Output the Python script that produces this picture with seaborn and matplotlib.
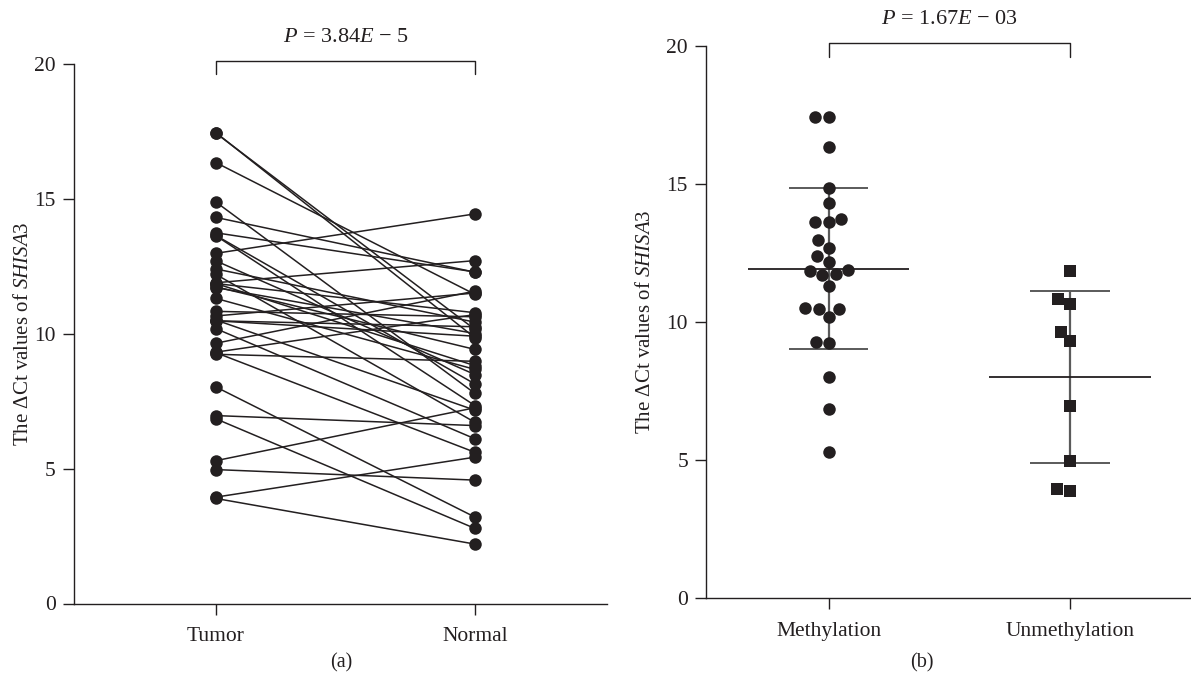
import numpy as np
import pandas as pd
import seaborn as sns
import matplotlib.pyplot as plt

# (a) paired delta Ct values, one entry per patient
tumor = [17.44, 17.42, 16.33, 14.87, 14.30, 13.73, 13.63, 13.62, 12.97, 12.69,
         12.39, 12.19, 11.88, 11.85, 11.85, 11.73, 11.70, 11.30, 10.82, 10.65,
         10.50, 10.47, 10.47, 10.18, 9.64, 9.31, 9.29, 9.23, 8.02, 6.96,
         6.84, 5.29, 4.96, 3.94, 3.89]
normal = [9.84, 10.15, 11.45, 7.78, 12.27, 12.28, 8.13, 7.33, 14.43, 8.48,
          10.42, 6.71, 12.70, 8.81, 10.77, 9.41, 10.00, 8.67, 10.62, 11.50,
          7.16, 9.90, 10.25, 6.10, 11.57, 10.70, 5.60, 8.97, 3.20, 6.59,
          2.78, 7.25, 4.57, 5.42, 2.20]

# (b) tumor delta Ct values by methylation status
methylation = [17.44, 17.42, 16.33, 14.87, 14.30, 13.73, 13.63, 13.62, 12.97,
               12.69, 12.39, 12.19, 11.88, 11.85, 11.73, 11.70, 11.30, 10.50,
               10.47, 10.47, 10.18, 9.29, 9.23, 8.02, 6.84, 5.29]
unmethylation = [11.85, 10.65, 10.82, 9.64, 9.31, 6.96, 4.96, 3.89, 3.94]

groups_a = ["Tumor", "Normal"]
groups_b = ["Methylation", "Unmethylation"]
p_a = r"$P$ = 3.84$E$ − 5"
p_b = r"$P$ = 1.67$E$ − 03"
ylabel = r"The $\Delta$Ct values of $\mathit{SHISA3}$"

ink = "#231f20"
grey = "#5a5a5a"

sns.set_style("ticks")
plt.rcParams["font.family"] = ["Liberation Serif", "DejaVu Serif"]
plt.rcParams["mathtext.fontset"] = "custom"
plt.rcParams["mathtext.rm"] = "Liberation Serif"
plt.rcParams["mathtext.it"] = "Liberation Serif:italic"
plt.rcParams["mathtext.cal"] = "Liberation Serif"

fig = plt.figure(figsize=(11.91, 6.8), dpi=100)
ax1 = fig.add_axes([0.0621, 0.1125, 0.4476, 0.7941])
ax2 = fig.add_axes([0.5928, 0.1206, 0.4060, 0.8118])

# ---- panel (a): paired lines
n = len(tumor)
df_a = pd.DataFrame({
    "pair": list(range(n)) * 2,
    "group": [groups_a[0]] * n + [groups_a[1]] * n,
    "value": tumor + normal,
})
sns.lineplot(data=df_a, x="group", y="value", units="pair", estimator=None,
             sort=False, color=ink, lw=1.1, marker="o", markersize=9,
             markeredgewidth=0, ax=ax1)
ax1.set_xlim(-0.548, 1.51)

# ---- panel (b): swarm + mean/SD
df_b = pd.DataFrame({
    "group": [groups_b[0]] * len(methylation) + [groups_b[1]] * len(unmethylation),
    "value": methylation + unmethylation,
})
stats = df_b.groupby("group")["value"].agg(["mean", "std"]).reindex(groups_b)
for i, g in enumerate(groups_b):
    m, s = stats.loc[g, "mean"], stats.loc[g, "std"]
    ax2.vlines(i, m - s, m + s, color=grey, lw=1.6, zorder=1)
    ax2.hlines([m - s, m + s], i - 0.165, i + 0.165, color=grey, lw=1.4, zorder=1)
    ax2.hlines(m, i - 0.335, i + 0.335, color=ink, lw=1.3, zorder=1)

sns.swarmplot(data=df_b[df_b.group == groups_b[0]], x="group", y="value",
              order=groups_b, marker="o", size=9, color=ink, linewidth=0,
              ax=ax2, zorder=3)
sns.swarmplot(data=df_b[df_b.group == groups_b[1]], x="group", y="value",
              order=groups_b, marker="s", size=9, color=ink, linewidth=0,
              ax=ax2, zorder=3)
ax2.set_xlim(-0.508, 1.496)

# ---- shared styling
for ax, p, groups, lp in [(ax1, p_a, groups_a, 1), (ax2, p_b, groups_b, 8)]:
    ax.set_ylim(0, 20)
    ax.set_yticks([0, 5, 10, 15, 20])
    ax.set_xticks([0, 1])
    ax.set_xticklabels(groups)
    ax.set_xlabel("")
    ax.set_ylabel(ylabel, fontsize=15, color=ink, labelpad=lp)
    sns.despine(ax=ax)
    ax.spines["left"].set_bounds(0, 20)
    for sp in ["left", "bottom"]:
        ax.spines[sp].set_color(ink)
        ax.spines[sp].set_linewidth(1.0)
    ax.tick_params(axis="both", direction="out", length=8, width=1,
                   color=ink, labelcolor=ink, labelsize=15.5, pad=5)
    ax.tick_params(axis="x", pad=9)
    # significance bracket
    ax.plot([0, 0, 1, 1], [19.6, 20.1, 20.1, 19.6], color=ink, lw=1.0,
            clip_on=False)
    ax.text(0.5, 20.95, p, ha="center", va="center", fontsize=16,
            color=ink, clip_on=False)

fig.text(0.2863, 0.025, "(a)", ha="center", va="center", fontsize=14.5, color=ink)
fig.text(0.7741, 0.025, "(b)", ha="center", va="center", fontsize=14.5, color=ink)

fig.savefig("out.png", dpi=100)
